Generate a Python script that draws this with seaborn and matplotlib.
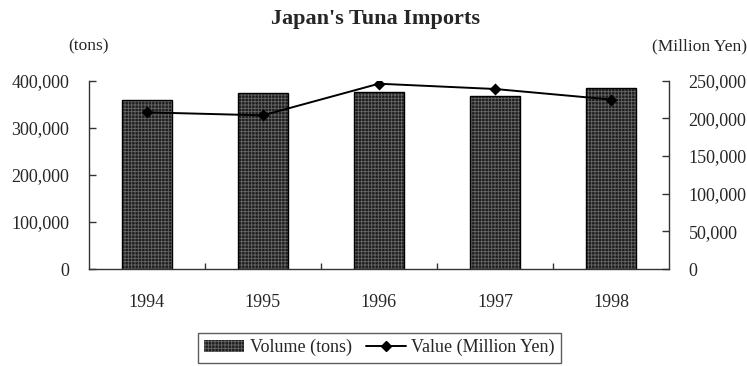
import matplotlib
matplotlib.use("Agg")
import matplotlib.pyplot as plt
import seaborn as sns
import pandas as pd
from matplotlib.ticker import FuncFormatter, FixedLocator
from matplotlib.lines import Line2D
from matplotlib.patches import Patch

years = ["1994", "1995", "1996", "1997", "1998"]
volume_tons = [360000, 373000, 376000, 368000, 384000]
value_myen = [208000, 204000, 246000, 239000, 225000]

sns.set_theme(style="white")
plt.rcParams["font.family"] = ["Liberation Serif", "DejaVu Serif"]
plt.rcParams["hatch.linewidth"] = 0.6
plt.rcParams["hatch.color"] = "#666666"

df = pd.DataFrame({"year": years, "volume": volume_tons, "value": value_myen})

fig = plt.figure(figsize=(7.47, 3.66), dpi=100)
ax = fig.add_axes([0.1187, 0.265, 0.8956 - 0.1187, 0.7795 - 0.265])

sns.barplot(data=df, x="year", y="volume", ax=ax, color="#1e1e1e", width=0.43,
            saturation=1, linewidth=0, edgecolor="#666666")
for p in ax.patches:
    p.set_hatch("+++++")
    p.set_facecolor("#1e1e1e")
# black outline overlay
sns.barplot(data=df, x="year", y="volume", ax=ax, fill=False, width=0.43,
            linewidth=1.0, edgecolor="black", saturation=1)

ax.set_ylim(0, 400000)
ax.set_yticks([0, 100000, 200000, 300000, 400000])
fmt = FuncFormatter(lambda v, _: f"{int(v):,}")
ax.yaxis.set_major_formatter(fmt)
ax.set_xlabel("")
ax.set_ylabel("")

ax2 = ax.twinx()
sns.pointplot(data=df, x="year", y="value", ax=ax2, color="black", markers="D",
              markersize=5.5, linewidth=1.4, errorbar=None)
ax2.set_ylim(0, 250000)
ax2.set_yticks([0, 50000, 100000, 150000, 200000, 250000])
ax2.yaxis.set_major_formatter(fmt)
ax2.set_ylabel("")
ax2.set_xlabel("")
ax.set_xlim(-0.5, 4.5)

for a in (ax, ax2):
    a.spines["top"].set_visible(False)
    for s in a.spines.values():
        s.set_color("#333333")
        s.set_linewidth(1.0)
ax.spines["right"].set_visible(False)
ax2.spines["left"].set_visible(False)
ax2.spines["bottom"].set_visible(False)

ax.tick_params(axis="y", direction="in", length=5, width=1, color="#333333",
               labelsize=13, pad=14, left=True)
ax2.tick_params(axis="y", direction="in", length=5, width=1, color="#333333",
                labelsize=13, pad=14, right=True)
ax.tick_params(axis="x", which="major", length=0, labelsize=13, pad=18)
ax.xaxis.set_minor_locator(FixedLocator([0.5, 1.5, 2.5, 3.5]))
ax.tick_params(axis="x", which="minor", direction="in", length=4, width=1,
               color="#333333", bottom=True)

fig.text(0.503, 0.948, "Japan's Tuna Imports", ha="center", va="center",
         fontsize=16, fontweight="bold")
fig.text(0.118, 0.872, "(tons)", ha="center", va="center", fontsize=12.5)
fig.text(0.937, 0.872, "(Million Yen)", ha="center", va="center", fontsize=12.5)

handles = [
    Patch(facecolor="#1e1e1e", edgecolor="#666666", hatch="+++++", linewidth=0),
    Line2D([0], [0], color="black", marker="D", markersize=5.5, linewidth=1.4),
]
leg = fig.legend(handles, ["Volume (tons)", "Value (Million Yen)"], loc="center",
                 bbox_to_anchor=(0.508, 0.05), ncol=2, frameon=True, fancybox=False,
                 fontsize=13, handlelength=2.2, handletextpad=0.3, columnspacing=0.8,
                 borderpad=0.35)
leg.get_frame().set_edgecolor("#333333")
leg.get_frame().set_linewidth(1.0)

fig.savefig("out.png", dpi=100)
